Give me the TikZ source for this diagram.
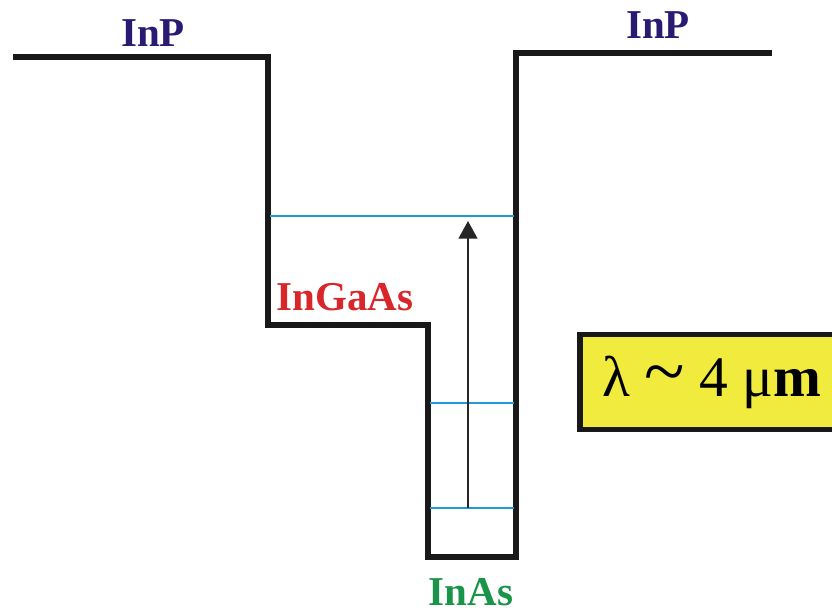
\documentclass[tikz,border=0pt]{standalone}
\usepackage{fontspec}
\setmainfont{Liberation Serif}
\usetikzlibrary{arrows.meta, positioning}
\definecolor{qwNavy}{HTML}{2A1A72}
\definecolor{qwRed}{HTML}{D8262B}
\definecolor{qwGreen}{HTML}{1A9448}
\definecolor{qwLevel}{HTML}{1E9BD7}
\definecolor{qwYellow}{HTML}{F0EB3C}

\begin{document}
\begin{tikzpicture}[x=0.03cm, y=-0.03cm,
    band/.style={line width=5.5pt, line join=miter, black!90},
    level/.style={line width=2.1pt, qwLevel},
    lbl/.style={font=\fontsize{35}{40}\selectfont\bfseries, inner sep=0pt}]
  \clip (0,0) rectangle (832,614);
  \fill[white] (0,0) rectangle (832,614);
  % band profile
  \coordinate (lTop) at (13,57);
  \coordinate (lEdge) at (268,57);
  \coordinate (gaTop) at (268,325);
  \coordinate (gaEdge) at (428,325);
  \coordinate (asLeft) at (428,557);
  \coordinate (asRight) at (516,557);
  \coordinate (rEdge) at (516,53);
  \coordinate (rTop) at (772,53);
  \draw[band] (lTop) -- (lEdge) -- (gaTop) -- (gaEdge) -- (asLeft)
    -- (asRight) -- (rEdge) -- (rTop);
  % levels
  \coordinate (e3a) at (270,216);  \coordinate (e3b) at (514,216);
  \coordinate (e2a) at (430,403);  \coordinate (e2b) at (514,403);
  \coordinate (e1a) at (430,508);  \coordinate (e1b) at (514,508);
  \draw[level] (e3a) -- (e3b);
  \draw[level] (e2a) -- (e2b);
  \draw[level] (e1a) -- (e1b);
  % transition
  \coordinate (trLow) at (468,508);
  \coordinate (trHigh) at (468,221);
  \draw[line width=1.7pt, black!85, -{Triangle[length=15pt, width=16pt]}] (trLow) -- (trHigh);
  % labels
  \node[lbl, text=qwNavy] (inpL) at (153,33) {InP};
  \node[lbl, text=qwNavy] (inpR) at (658,25) {InP};
  \node[lbl, text=qwRed] (ingaas) at (345,297) {InGaAs};
  \node[lbl, text=qwGreen] (inas) at (471,592) {InAs};
  \node[draw=black!90, line width=5pt, fill=qwYellow, minimum width=7.9cm,
        minimum height=2.85cm, inner sep=0pt,
        font=\fontsize{49}{54}\selectfont] (lambda) at (712,382)
        {λ \scalebox{1.3}{\textasciitilde} 4 μ\textbf{m}};
\end{tikzpicture}
\end{document}
